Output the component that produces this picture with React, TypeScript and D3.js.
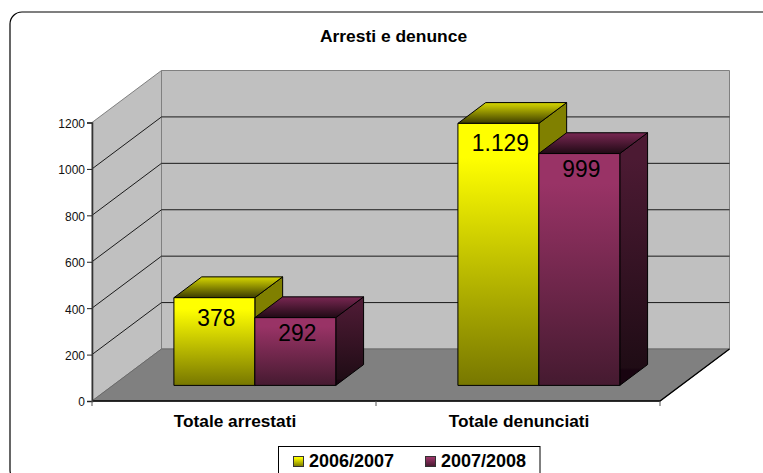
import React, { useRef, useEffect } from 'react';
import * as d3 from 'd3';

const categories = ['Totale arrestati', 'Totale denunciati'];
const seriesNames = ['2006/2007', '2007/2008'];
const values2006 = [378, 1129];
const values2007 = [292, 999];
const valueLabels2006 = ['378', '1.129'];
const valueLabels2007 = ['292', '999'];
const yTicks = [0, 200, 400, 600, 800, 1000, 1200];

const FONT = '"Liberation Sans", Arial, sans-serif';

const App = () => {
  const svgRef = useRef<SVGSVGElement>(null);

  useEffect(() => {
    const svg = d3.select(svgRef.current);
    svg.selectAll('*').remove();

    const left = 92;
    const right = 660;
    const depthX = 69.5; // how far the back wall is shifted from the front plane
    const depthY = 52;

    const yScale = d3.scaleLinear().domain([0, 1200]).range([401, 122.5]);
    const xScale = d3.scaleBand().domain(categories).range([left, right]).paddingInner(0.43).paddingOuter(0.215);
    const seriesScale = d3.scaleBand().domain(seriesNames).range([0, xScale.bandwidth()]);

    // 3D projection: x on the front plane, value, depth 0..1
    const proj = (x: number, v: number, f: number): [number, number] => [x + f * depthX, yScale(v) - f * depthY];
    const poly = (pts: [number, number][]) => d3.line()(pts) + 'Z';

    // Gradients
    const defs = svg.append('defs');
    const gradient = (id: string, stops: [number, string][]) => {
      defs.append('linearGradient')
        .attr('id', id)
        .attr('x1', 0).attr('y1', 0).attr('x2', 0).attr('y2', 1)
        .selectAll('stop')
        .data(stops)
        .join('stop')
        .attr('offset', d => d[0])
        .attr('stop-color', d => d[1]);
    };
    gradient('yellowFront', [[0.13, '#ffff00'], [1, '#777700']]);
    gradient('yellowTop', [[0.1, '#c8c800'], [1, '#3c3c00']]);
    gradient('purpleFront', [[0.13, '#993366'], [1, '#451a30']]);
    gradient('purpleTop', [[0.1, '#70244c'], [1, '#200a15']]);
    gradient('purpleSide', [[0.1, '#4c1a33'], [0.93, '#1f0c15'], [0.94, '#180410'], [1, '#180410']]);

    // Outer frame, it runs past the right and bottom of the picture
    svg.append('rect')
      .attr('x', 10).attr('y', 12)
      .attr('width', 900).attr('height', 470)
      .attr('rx', 12)
      .attr('fill', '#fff')
      .attr('stroke', '#000')
      .attr('stroke-width', 1.2);

    // the original text is a bit wider than the font, so it gets stretched
    const stretched = (sel: any, x: number, y: number, sx: number) =>
      sel.attr('transform', `translate(${x},${y}) scale(${sx},1)`)
        .attr('text-anchor', 'middle')
        .attr('font-family', FONT);

    stretched(svg.append('text'), 393.5, 41.5, 1.09)
      .attr('font-weight', 'bold')
      .attr('font-size', 16)
      .text('Arresti e denunce');

    // Walls and floor
    const maxV = yScale.domain()[1];
    svg.append('path')
      .attr('d', poly([proj(left, 0, 1), proj(left, maxV, 1), proj(right, maxV, 1), proj(right, 0, 1)]))
      .attr('fill', '#c0c0c0')
      .attr('stroke', '#808080')
      .attr('stroke-width', 1);
    svg.append('path')
      .attr('d', poly([proj(left, 0, 0), proj(left, maxV, 0), proj(left, maxV, 1), proj(left, 0, 1)]))
      .attr('fill', '#c0c0c0')
      .attr('stroke', '#808080')
      .attr('stroke-width', 1);
    svg.append('path')
      .attr('d', poly([proj(left, 0, 0), proj(right, 0, 0), proj(right, 0, 1), proj(left, 0, 1)]))
      .attr('fill', '#808080')
      .attr('stroke', '#6a6a6a')
      .attr('stroke-width', 1);
    svg.append('path')
      .attr('d', d3.line()([proj(right, 0, 1), proj(right, 0, 0), proj(left, 0, 0)]))
      .attr('fill', 'none')
      .attr('stroke', '#000')
      .attr('stroke-width', 1.3);

    // Gridlines on the side wall and the back wall
    svg.append('g')
      .selectAll('path')
      .data(yTicks.filter(t => t > 0 && t < maxV))
      .join('path')
      .attr('d', t => d3.line()([proj(left, t, 0), proj(left, t, 1), proj(right, t, 1)]))
      .attr('fill', 'none')
      .attr('stroke', '#1a1a1a')
      .attr('stroke-width', 1);

    // Axes
    const yAxis = svg.append('g')
      .attr('transform', `translate(${left},0)`)
      .call(d3.axisLeft(yScale).tickValues(yTicks).tickSize(5).tickPadding(2).tickFormat(d3.format('d')));
    yAxis.select('.domain').attr('stroke', '#333').attr('stroke-width', 1.6);
    yAxis.selectAll('line').attr('stroke', '#222');
    yAxis.selectAll('text')
      .attr('y', 1)
      .attr('font-family', FONT)
      .attr('font-size', 12)
      .attr('fill', '#111');

    svg.append('g')
      .selectAll('line')
      .data([left, (left + right) / 2, right])
      .join('line')
      .attr('x1', d => d).attr('x2', d => d)
      .attr('y1', yScale(0)).attr('y2', yScale(0) + 5)
      .attr('stroke', '#555');

    categories.forEach(cat => {
      stretched(svg.append('text'), xScale(cat)! + xScale.bandwidth() / 2 + 1, 427, 1.08)
        .attr('font-weight', 'bold')
        .attr('font-size', 16)
        .text(cat);
    });

    // Bars, sitting between 30% and 70% of the floor depth
    const z0 = 0.3;
    const z1 = 0.7;
    const seriesData = [
      { name: seriesNames[0], values: values2006, labels: valueLabels2006, front: 'url(#yellowFront)', top: 'url(#yellowTop)', side: '#808000', dy: 28 },
      { name: seriesNames[1], values: values2007, labels: valueLabels2007, front: 'url(#purpleFront)', top: 'url(#purpleTop)', side: 'url(#purpleSide)', dy: 23 },
    ];
    const w = seriesScale.bandwidth();

    categories.forEach((cat, c) => {
      const g = svg.append('g').attr('class', 'bars');
      seriesData.forEach(s => {
        const x = xScale(cat)! + seriesScale(s.name)!;
        const v = s.values[c];
        const barG = g.append('g').attr('stroke', '#000').attr('stroke-width', 1).attr('stroke-linejoin', 'round');
        barG.append('path')
          .attr('d', poly([proj(x + w, 0, z0), proj(x + w, v, z0), proj(x + w, v, z1), proj(x + w, 0, z1)]))
          .attr('fill', s.side);
        barG.append('path')
          .attr('d', poly([proj(x, v, z0), proj(x + w, v, z0), proj(x + w, v, z1), proj(x, v, z1)]))
          .attr('fill', s.top);
        barG.append('path')
          .attr('d', poly([proj(x, 0, z0), proj(x + w, 0, z0), proj(x + w, v, z0), proj(x, v, z0)]))
          .attr('fill', s.front);
      });
      seriesData.forEach(s => {
        const x = xScale(cat)! + seriesScale(s.name)!;
        const [fx, fy] = proj(x + w / 2, s.values[c], z0);
        stretched(g.append('text'), fx + 2, fy + s.dy, 0.95)
          .attr('font-size', 24)
          .attr('fill', '#000')
          .text(s.labels[c]);
      });
    });

    // Legend, cut off by the bottom of the picture
    const legend = svg.append('g');
    legend.append('rect')
      .attr('x', 278.5).attr('y', 446.5)
      .attr('width', 261.5).attr('height', 40)
      .attr('fill', '#fff')
      .attr('stroke', '#000');
    const legendX = d3.scalePoint().domain(seriesNames).range([293.5, 425.5]);
    seriesData.forEach(s => {
      const x = legendX(s.name)!;
      legend.append('rect')
        .attr('x', x).attr('y', 456.5)
        .attr('width', 10).attr('height', 10)
        .attr('fill', s.front)
        .attr('stroke', '#333');
      legend.append('text')
        .attr('x', x + 15.5).attr('y', 467)
        .attr('font-family', FONT)
        .attr('font-weight', 'bold')
        .attr('font-size', 18)
        .text(s.name);
    });
  }, []);

  return (
    <svg
      ref={svgRef}
      width={763}
      height={473}
      style={{ position: 'absolute', left: 0, top: 0, display: 'block', background: '#fff' }}
    />
  );
};

export default App;
